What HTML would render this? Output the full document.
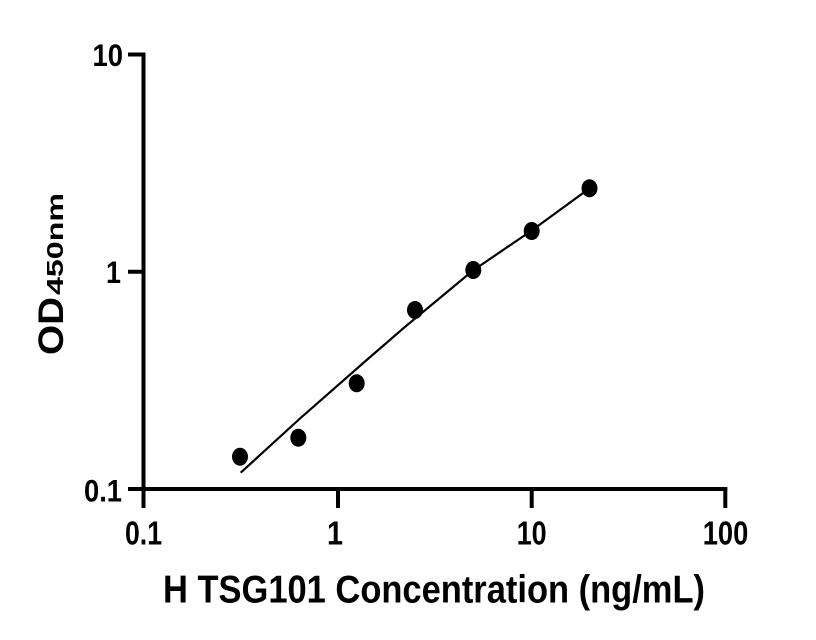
<!DOCTYPE html>
<html>
<head>
<meta charset="utf-8">
<style>
html,body{margin:0;padding:0;background:#fff;}
svg{display:block;}
text{font-family:"Liberation Sans",Arial,sans-serif;font-weight:bold;fill:#000;}
</style>
</head>
<body>
<svg width="816" height="640" viewBox="0 0 816 640" xmlns="http://www.w3.org/2000/svg">
<rect width="816" height="640" fill="#fff"/>
<!-- axes -->
<g stroke="#000" stroke-width="4" fill="none" stroke-linecap="butt">
  <line x1="143.5" y1="52.5" x2="143.5" y2="491"/>
  <line x1="141.5" y1="489" x2="727.3" y2="489"/>
  <!-- y ticks -->
  <line x1="128" y1="54.5" x2="145.5" y2="54.5"/>
  <line x1="128" y1="271.75" x2="143.5" y2="271.75"/>
  <line x1="128" y1="489" x2="143.5" y2="489"/>
  <!-- x ticks -->
  <line x1="143.5" y1="489" x2="143.5" y2="508"/>
  <line x1="338" y1="489" x2="338" y2="508"/>
  <line x1="531.7" y1="489" x2="531.7" y2="508"/>
  <line x1="725.3" y1="487" x2="725.3" y2="508"/>
</g>
<!-- y tick labels -->
<text x="123" y="66" font-size="31.5" text-anchor="end" textLength="30.5" lengthAdjust="spacingAndGlyphs">10</text>
<text x="121" y="283" font-size="31.5" text-anchor="end" textLength="15" lengthAdjust="spacingAndGlyphs">1</text>
<text x="122" y="501.5" font-size="31.5" text-anchor="end" textLength="38" lengthAdjust="spacingAndGlyphs">0.1</text>
<!-- x tick labels -->
<text x="125" y="544.5" font-size="33" textLength="37" lengthAdjust="spacingAndGlyphs">0.1</text>
<text x="327" y="544.5" font-size="33" textLength="16" lengthAdjust="spacingAndGlyphs">1</text>
<text x="516.7" y="544.5" font-size="33" textLength="30" lengthAdjust="spacingAndGlyphs">10</text>
<text x="702.7" y="544.5" font-size="33" textLength="45.6" lengthAdjust="spacingAndGlyphs">100</text>
<!-- x title -->
<text x="163" y="602.5" font-size="38.5" textLength="542" lengthAdjust="spacingAndGlyphs">H TSG101 Concentration (ng/mL)</text>
<!-- y title -->
<text transform="translate(63,355) rotate(-90)" font-size="35" textLength="58" lengthAdjust="spacingAndGlyphs">OD</text>
<text transform="translate(63,295) rotate(-90)" font-size="23.5" textLength="102" lengthAdjust="spacingAndGlyphs">450nm</text>
<!-- fit curve -->
<polyline points="240.7,472.7 300,418.5 366.7,360 403.3,328.3 473,270.5 531.7,230.5 590,188" fill="none" stroke="#000" stroke-width="2.2" stroke-linejoin="round"/>
<!-- data points -->
<g fill="#000">
  <ellipse cx="240" cy="456.7" rx="8" ry="9"/>
  <ellipse cx="298.3" cy="437.7" rx="8" ry="9"/>
  <ellipse cx="356.7" cy="383.3" rx="8" ry="9"/>
  <ellipse cx="415" cy="310" rx="8" ry="9"/>
  <ellipse cx="473.3" cy="270" rx="8" ry="9"/>
  <ellipse cx="531.7" cy="231" rx="8" ry="9"/>
  <ellipse cx="589.5" cy="188.3" rx="8" ry="9"/>
</g>
</svg>
</body>
</html>
